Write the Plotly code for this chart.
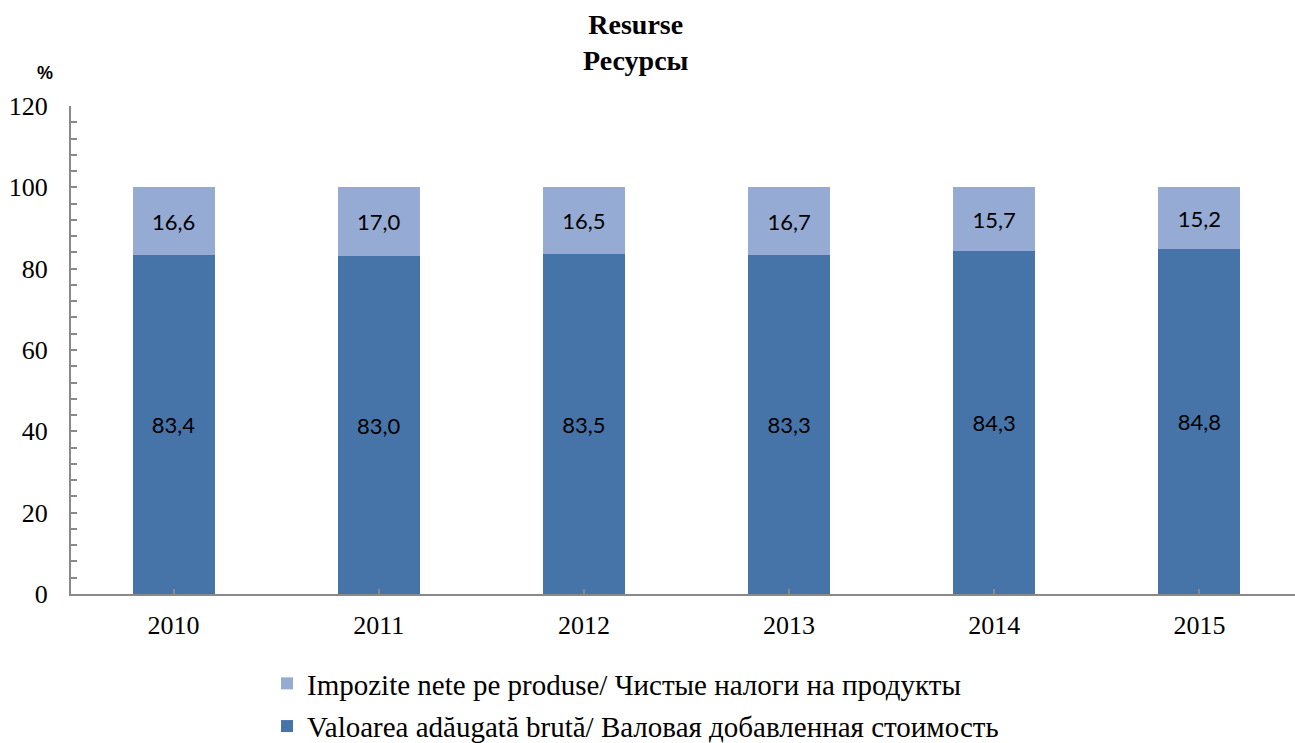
import plotly.graph_objects as go

years = ["2010", "2011", "2012", "2013", "2014", "2015"]
gva = [83.4, 83.0, 83.5, 83.3, 84.3, 84.8]
taxes = [16.6, 17.0, 16.5, 16.7, 15.7, 15.2]
name_gva = "Valoarea adăugată brută/ Валовая добавленная стоимость"
name_tax = "Impozite nete pe produse/ Чистые налоги на продукты"
y_ticks = [0, 20, 40, 60, 80, 100, 120]


def fmt(v):
    return f"{v:.1f}".replace(".", ",")


SERIF = "Liberation Serif"
label_font = dict(family="Lato", size=22, color="black")

fig = go.Figure()
fig.add_trace(go.Bar(
    x=years, y=gva, name=name_gva, legendrank=2, legendgroup="g2",
    marker=dict(color="#4674A9", line=dict(width=0)),
    text=[fmt(v) for v in gva], textposition="inside",
    insidetextanchor="middle", textfont=label_font, constraintext="none",
    hoverinfo="skip",
))
fig.add_trace(go.Bar(
    x=years, y=taxes, name=name_tax, legendrank=1, legendgroup="g1",
    marker=dict(color="#95ABD3", line=dict(width=0)),
    text=[fmt(v) for v in taxes], textposition="inside",
    insidetextanchor="middle", textfont=label_font, constraintext="none",
    hoverinfo="skip",
))

axis_col = "#898989"
fig.update_layout(
    barmode="stack",
    bargap=0.6,
    width=1295, height=743,
    margin=dict(l=71, r=0, t=106, b=149, autoexpand=False),
    paper_bgcolor="white", plot_bgcolor="white",
    font=dict(family=SERIF, color="black"),
    showlegend=True,
    legend=dict(
        traceorder="grouped", tracegroupgap=2,
        xref="container", yref="container",
        x=0.2062, xanchor="left", y=0.1144, yanchor="top",
        font=dict(family=SERIF, size=29, color="black"),
        bgcolor="rgba(0,0,0,0)", itemclick=False,
    ),
    xaxis=dict(
        type="category", range=[-0.5, 5.466],
        showline=True, linecolor=axis_col, linewidth=2,
        ticks="inside", ticklen=5, tickcolor=axis_col, tickwidth=2,
        tickfont=dict(family=SERIF, size=26, color="black"), ticklabelstandoff=7,
        showgrid=False, zeroline=False, fixedrange=True,
    ),
    yaxis=dict(
        range=[0, 120], tickvals=y_ticks,
        showline=True, linecolor=axis_col, linewidth=2,
        ticks="inside", ticklen=6, tickcolor=axis_col, tickwidth=2,
        minor=dict(dtick=4, ticks="inside", ticklen=6, tickcolor=axis_col, tickwidth=2, showgrid=False),
        tickfont=dict(family=SERIF, size=26, color="black"), ticklabelstandoff=16,
        showgrid=False, zeroline=False, fixedrange=True,
    ),
    annotations=[
        dict(text="<b>Resurse<br>Ресурсы</b>", xref="paper", yref="paper",
             x=0.4616, y=1.131, xanchor="center", yanchor="middle", showarrow=False,
             font=dict(family=SERIF, size=28, color="black")),
        dict(text="<b>%</b>", xref="paper", yref="paper",
             x=-0.0212, y=1.0676, xanchor="center", yanchor="middle", showarrow=False,
             font=dict(family="Liberation Sans", size=18, color="black")),
    ],
)

fig.write_html(
    "out.html",
    config={"displayModeBar": False},
    post_script="document.body.style.margin='0';document.body.style.overflow='hidden';",
)
